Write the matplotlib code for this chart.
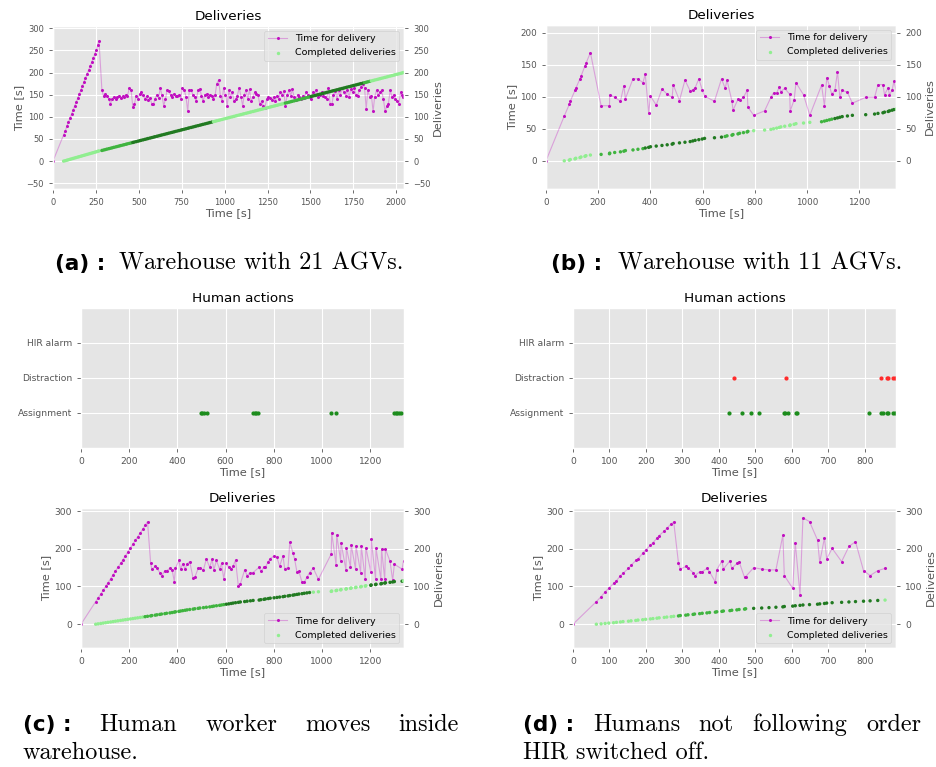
import numpy as np
import matplotlib
matplotlib.use("Agg")
import matplotlib.pyplot as plt
from matplotlib.ticker import MultipleLocator

plt.style.use('ggplot')

W, H = 936, 767

# ---- (a) warehouse with 21 AGVs: completion time of each delivery and its duration
deliv_a_t = [62, 72, 81, 90, 99, 108, 117, 126, 135, 144, 153, 162, 171, 180, 189, 198,
             207, 216, 225, 234, 243, 252, 260, 268,
             285, 295, 305, 314, 325, 335, 345, 354, 365, 375,
             385, 394, 405, 415, 425, 434, 445, 455, 465, 474,
             485, 495, 505, 514, 525, 535, 545, 554, 565, 575,
             585, 594, 605, 615, 625, 634, 645, 655, 665, 674,
             685, 695, 705, 714, 725, 735, 745, 754, 765, 775,
             785, 794, 805, 815, 825, 834, 845, 855, 865, 874,
             885, 895, 905, 914, 925, 935, 945, 954, 965, 975,
             985, 994, 1005, 1015, 1025, 1034, 1045, 1055, 1065, 1074,
             1085, 1095, 1105, 1114, 1125, 1135, 1145, 1154, 1165, 1175,
             1185, 1194, 1205, 1215, 1225, 1234, 1245, 1255, 1265, 1274,
             1285, 1295, 1305, 1314, 1325, 1335, 1345, 1354, 1365, 1375,
             1385, 1394, 1405, 1415, 1425, 1434, 1445, 1455, 1465, 1474,
             1485, 1495, 1505, 1514, 1525, 1535, 1545, 1554, 1565, 1575,
             1585, 1594, 1605, 1615, 1625, 1634, 1645, 1655, 1665, 1674,
             1685, 1695, 1705, 1714, 1725, 1735, 1745, 1754, 1765, 1775,
             1785, 1794, 1805, 1815, 1825, 1834, 1845, 1855, 1865, 1874,
             1885, 1895, 1905, 1914, 1925, 1935, 1945, 1954, 1965, 1975,
             1985, 1994, 2005, 2015, 2025, 2034, 2042]
dur_a = [59, 69, 79, 88, 97, 106, 115, 124, 133, 142, 151, 160, 169, 178, 187, 196,
         205, 214, 223, 232, 241, 250, 262, 272,
         160, 146, 152, 148, 140, 130, 140, 145, 140, 145,
         148, 142, 146, 145, 150, 148, 165, 160, 122, 128,
         148, 140, 152, 155, 150, 140, 146, 138, 143, 130,
         128, 140, 150, 142, 165, 150, 125, 140, 160, 158,
         150, 145, 152, 148, 146, 150, 140, 165, 160, 145,
         112, 160, 160, 150, 145, 135, 160, 163, 148, 135,
         150, 152, 145, 150, 148, 140, 150, 175, 183, 148,
         135, 165, 150, 125, 160, 145, 155, 135, 140, 148,
         166, 145, 125, 150, 160, 140, 162, 135, 145, 155,
         152, 150, 128, 135, 125, 120, 140, 145, 142, 138,
         145, 135, 148, 140, 155, 150, 158, 125, 150, 160,
         148, 162, 145, 138, 150, 145, 140, 148, 143, 155,
         150, 145, 140, 155, 150, 160, 145, 150, 155, 148,
         145, 140, 165, 128, 128, 150, 158, 140, 160, 150,
         165, 155, 148, 160, 145, 162, 155, 165, 150, 148,
         160, 168, 175, 165, 118, 160, 145, 148, 112, 145,
         160, 150, 155, 160, 140, 112, 125, 130, 160, 145,
         150, 140, 135, 130, 155, 150, 145]
shade_a = [(0, 0), (280, 1), (460, 2), (935, 0), (1350, 1), (1500, 2), (1810, 1), (1850, 0)]

# ---- (b) warehouse with 11 AGVs
deliv_b_t = [70, 89, 93, 111, 114, 130, 134, 149, 153, 170,
             211, 243, 244, 263, 285, 298, 304, 333, 352, 371,
             380, 393, 400, 422, 444, 464, 483, 487, 511, 532,
             552, 562, 571, 585, 598, 607, 645, 672, 686, 693,
             712, 716, 735, 741, 756, 770, 773, 795, 837, 861,
             871, 883, 893, 899, 914, 933, 935, 950, 957, 986,
             1010, 1055, 1066, 1075, 1085, 1094, 1106, 1116, 1125, 1134,
             1154, 1173, 1224, 1258, 1271, 1290, 1296, 1310, 1315, 1325,
             1332, 1342]
dur_b = [70, 88, 93, 110, 113, 128, 132, 148, 152, 169,
         86, 86, 103, 99, 93, 117, 97, 128, 128, 122,
         135, 75, 101, 87, 112, 104, 99, 119, 94, 126,
         109, 111, 114, 128, 111, 101, 93, 128, 113, 126,
         93, 79, 96, 95, 99, 110, 84, 71, 78, 99,
         106, 106, 115, 108, 113, 104, 78, 95, 122, 103,
         71, 118, 86, 130, 117, 104, 110, 139, 99, 110,
         107, 90, 99, 99, 119, 119, 103, 114, 103, 110,
         124, 108]
shade_b = [(0, 0), (200, 1), (380, 2), (680, 1), (775, 0), (1050, 1), (1100, 2), (1338, 0)]

# ---- (c) human worker moves inside warehouse
deliv_c_t = [61, 71, 82, 92, 102, 112, 123, 133, 143, 153, 164, 174, 184, 194, 205, 215,
             225, 235, 246, 256, 266, 276,
             289, 294, 308, 315, 327, 334, 348, 355, 369, 378,
             387, 392, 406, 413, 422, 432, 440, 451, 465, 472,
             486, 493, 508, 520, 534, 544, 551, 562, 575, 583,
             592, 603, 613, 623, 631, 641, 653, 661, 679, 689,
             703, 714, 739, 746, 759, 765, 777, 785, 801, 813,
             824, 838, 845, 859, 866, 879, 886, 896, 904, 917,
             926, 937, 948, 964, 985,
             1038, 1040, 1058, 1061, 1077, 1079, 1099, 1101, 1118, 1121,
             1139, 1141, 1160, 1163, 1179, 1182, 1202, 1204, 1222, 1224,
             1244, 1247, 1260, 1263, 1282, 1293, 1300, 1332, 1338]
dur_c = [60, 70, 80, 90, 100, 110, 121, 131, 141, 151, 161, 171, 181, 191, 202, 212,
         222, 232, 242, 252, 262, 272,
         161, 146, 153, 148, 137, 128, 142, 142, 148, 144,
         113, 148, 169, 146, 160, 146, 160, 166, 122, 124,
         148, 148, 144, 173, 151, 172, 144, 169, 146, 161,
         121, 161, 151, 146, 154, 170, 100, 107, 144, 129,
         137, 137, 151, 140, 151, 151, 166, 174, 181, 177,
         154, 181, 147, 150, 217, 190, 173, 138, 140, 111,
         111, 124, 137, 148, 119,
         186, 243, 158, 236, 168, 216, 144, 203, 151, 210,
         146, 207, 137, 207, 119, 203, 139, 226, 120, 201,
         119, 199, 119, 199, 167, 116, 159, 146, 168]
shade_c = [(0, 0), (265, 1), (600, 2), (960, 0), (1195, 2), (1335, 0)]
assign_c = [497, 504, 511, 523, 714, 721, 728, 735, 1038, 1056, 1298, 1305, 1312, 1319, 1326]
distract_c = []
alarm_c = []

# ---- (d) humans not following orders, HIR switched off
deliv_d_t = [64, 77, 88, 98, 111, 119, 130, 137, 152, 159, 172, 178, 191, 199, 212, 219,
             230, 236, 250, 257, 269, 276,
             289, 294, 309, 315, 329, 333, 347, 354, 367, 374,
             390, 394, 408, 412, 430, 435, 449, 455, 470, 473,
             495, 517, 537, 556, 575, 579, 602, 609, 622, 630,
             648, 670, 676, 689, 695, 710, 736, 756, 774, 796,
             814, 835, 855]
dur_d = [60, 73, 86, 95, 108, 115, 129, 135, 148, 156, 169, 173, 188, 197, 209, 216,
         228, 235, 247, 254, 266, 271,
         162, 146, 153, 149, 137, 128, 139, 139, 148, 139,
         112, 144, 168, 146, 168, 148, 161, 166, 124, 126,
         150, 146, 144, 144, 236, 129, 95, 216, 78, 282,
         272, 223, 164, 229, 173, 201, 166, 206, 219, 142,
         129, 142, 148]
shade_d = [(0, 0), (285, 1), (475, 2), (850, 0)]
assign_d = [428, 462, 487, 509, 577, 582, 590, 610, 615, 812, 843, 850, 859, 864, 878, 883]
distract_d = [440, 584, 843, 859, 864, 878, 883]
alarm_d = []

action_names = ['Assignment', 'Distraction', 'HIR alarm']

GREENS = ['#90ee90', '#3fb43f', '#217a21']
TICK_COL = '#555555'


def px_rect(left, top, right, bottom):
    return [left / W, 1 - bottom / H, (right - left) / W, (bottom - top) / H]


def shade_colors(times, shades):
    cols = []
    for t in times:
        lvl = 0
        for start, level in shades:
            if t >= start:
                lvl = level
        cols.append(GREENS[lvl])
    return cols


def style_ticks(ax, size):
    ax.tick_params(labelsize=size, colors=TICK_COL, length=3, width=0.6)


def deliveries_panel(rect, times, durs, shades, xlim, ylim, xstep, ystep, loc, tsize):
    ax = fig.add_axes(rect)
    ax.plot([0] + times, [0] + durs, color=(0.75, 0.0, 0.75, 0.3), lw=0.8,
            marker='.', ms=2.4, mfc='#c010c0', mec='#c010c0', label='Time for delivery')
    ax.set_xlim(*xlim)
    ax.set_ylim(*ylim)
    ax.xaxis.set_major_locator(MultipleLocator(xstep))
    ax.yaxis.set_major_locator(MultipleLocator(ystep))
    ax.set_title('Deliveries', fontsize=9.7, pad=4)
    ax.set_xlabel('Time [s]', fontsize=8.2, color=TICK_COL, labelpad=1)
    ax.set_ylabel('Time [s]', fontsize=8.2, color=TICK_COL, labelpad=2)
    style_ticks(ax, tsize)

    ax2 = ax.twinx()
    ax2.grid(False)
    ax2.scatter(times, np.arange(len(times)), c=shade_colors(times, shades), s=6,
                linewidths=0, label='Completed deliveries')
    ax2.set_ylim(*ylim)
    ax2.yaxis.set_major_locator(MultipleLocator(ystep))
    ax2.set_ylabel('Deliveries', fontsize=8.2, color=TICK_COL, labelpad=2)
    style_ticks(ax2, tsize)

    h1, l1 = ax.get_legend_handles_labels()
    h2, l2 = ax2.get_legend_handles_labels()
    leg = ax2.legend(h1 + h2, l1 + l2, loc=loc, fontsize=6.8, framealpha=0.8)
    leg.legend_handles[1].set_color(GREENS[0])
    return ax


def actions_panel(rect, assign, distract, alarm, xlim, xstep, tsize):
    ax = fig.add_axes(rect)
    ax.plot(assign, [0] * len(assign), 'o', color='#1c8c1c', ms=2.0)
    ax.plot(distract, [1] * len(distract), 'o', color='#ff2a2a', ms=2.0)
    ax.plot(alarm, [2] * len(alarm), 'o', color='#2a2aff', ms=2.0)
    ax.set_xlim(*xlim)
    ax.set_ylim(-1, 3)
    ax.set_yticks([0, 1, 2])
    ax.set_yticklabels(action_names)
    ax.xaxis.set_major_locator(MultipleLocator(xstep))
    ax.set_title('Human actions', fontsize=9.7, pad=4)
    ax.set_xlabel('Time [s]', fontsize=8.2, color=TICK_COL, labelpad=1)
    style_ticks(ax, tsize)
    return ax


fig = plt.figure(figsize=(W / 100, H / 100), dpi=100)

deliveries_panel(px_rect(53, 26, 404, 189), deliv_a_t, dur_a, shade_a,
                 (0, 2045), (-63, 305), 250, 50, 'upper right', 6.0)
deliveries_panel(px_rect(546, 25, 896, 189), deliv_b_t, dur_b, shade_b,
                 (0, 1340), (-44, 212), 200, 50, 'upper right', 6.3)
actions_panel(px_rect(81, 308, 404, 448), assign_c, distract_c, alarm_c, (0, 1340), 200, 6.6)
actions_panel(px_rect(573, 308, 896, 448), assign_d, distract_d, alarm_d, (0, 885), 100, 6.6)
deliveries_panel(px_rect(81, 508, 404, 648), deliv_c_t, dur_c, shade_c,
                 (0, 1340), (-63, 308), 200, 100, 'lower right', 6.6)
deliveries_panel(px_rect(573, 508, 896, 648), deliv_d_t, dur_d, shade_d,
                 (0, 885), (-63, 308), 100, 100, 'lower right', 6.6)

# sub-figure captions: bold label, serif body
CAP_SIZE = 17.5
LABEL_FONT = dict(fontfamily='DejaVu Sans', fontweight='bold', fontsize=15.5)
BODY_FONT = dict(fontfamily='cmr10', fontsize=CAP_SIZE)


def cap_text(x, y, s, font):
    return fig.text(x / W, 1 - y / H, s, va='baseline', ha='left', **font)


def justified_line(y, x0, x1, label, words):
    # spread the label and words so the line fills x0..x1 like a justified paragraph
    items = [cap_text(x0, y, label, LABEL_FONT)] + [cap_text(x0, y, w, BODY_FONT) for w in words]
    renderer = fig.canvas.get_renderer()
    widths = [t.get_window_extent(renderer).width for t in items]
    gap = (x1 - x0 - sum(widths)) / (len(items) - 1)
    x = x0
    for t, w in zip(items, widths):
        t.set_x(x / W)
        x += w + gap


cap_text(55, 270, '(a) :', LABEL_FONT)
cap_text(119, 270, 'Warehouse with 21 AGVs.', BODY_FONT)
cap_text(551, 270, '(b) :', LABEL_FONT)
cap_text(618, 270, 'Warehouse with 11 AGVs.', BODY_FONT)

justified_line(731, 23, 459, '(c) :', ['Human', 'worker', 'moves', 'inside'])
cap_text(23, 759, 'warehouse.', BODY_FONT)

justified_line(731, 523, 921, '(d) :', ['Humans', 'not', 'following', 'order'])
cap_text(523, 759, 'HIR switched off.', BODY_FONT)

fig.savefig('out.png', dpi=100)
